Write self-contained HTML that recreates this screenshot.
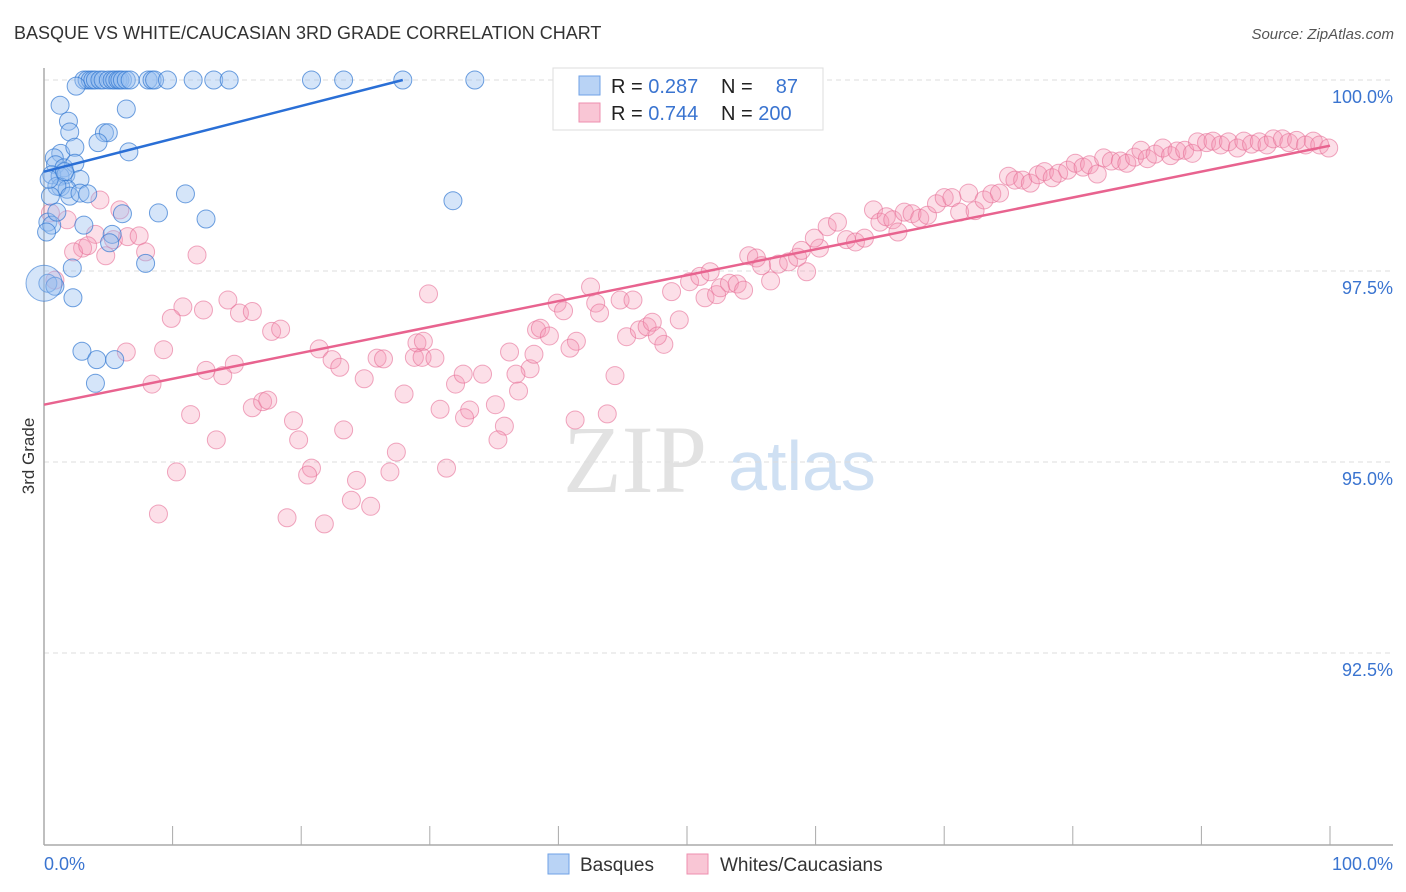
<!DOCTYPE html>
<html><head><meta charset="utf-8"><style>
body{margin:0;background:#fff;font-family:"Liberation Sans",sans-serif;}
svg{display:block}
</style></head><body>
<svg width="1406" height="892" xmlns="http://www.w3.org/2000/svg">
<text x="14" y="39" font-size="18" fill="#333">BASQUE VS WHITE/CAUCASIAN 3RD GRADE CORRELATION CHART</text>
<text x="1394" y="39" font-size="15" fill="#555" font-style="italic" text-anchor="end">Source: ZipAtlas.com</text>
<text transform="translate(34,456) rotate(-90)" font-size="17" fill="#333" text-anchor="middle">3rd Grade</text>
<g>
<text x="635" y="492" font-size="96" font-family="Liberation Serif,serif" fill="#e2e2e2" text-anchor="middle">ZIP</text>
<text x="802" y="490" font-size="70" fill="#cfe0f3" text-anchor="middle">atlas</text>
</g>
<g id="grid"></g>
<g id="axes"></g>
<g id="pts"></g>
<g id="lines"></g>
<g>
<rect x="553" y="68" width="270" height="62" fill="#fff" stroke="#ddd"/>
<rect x="579" y="76" width="21" height="19" fill="#b9d3f5" stroke="#6fa2e6"/>
<rect x="579" y="103" width="21" height="19" fill="#f9c6d5" stroke="#ee8faf"/>
<text x="611" y="93" font-size="20" fill="#222">R = <tspan fill="#3a74d0">0.287</tspan></text>
<text x="721" y="93" font-size="20" fill="#222">N =</text>
<text x="798" y="93" font-size="20" fill="#3a74d0" text-anchor="end">87</text>
<text x="611" y="120" font-size="20" fill="#222">R = <tspan fill="#3a74d0">0.744</tspan></text>
<text x="721" y="120" font-size="20" fill="#222">N = <tspan fill="#3a74d0">200</tspan></text>
</g>
<g>
<rect x="548" y="854" width="21" height="20" fill="#b9d3f5" stroke="#6fa2e6"/>
<text x="580" y="871" font-size="19" fill="#333">Basques</text>
<rect x="687" y="854" width="21" height="20" fill="#f9c6d5" stroke="#ee8faf"/>
<text x="720" y="871" font-size="19" fill="#333">Whites/Caucasians</text>
</g>
</svg>
<script>
const yTicks=[100,97.5,95,92.5];
const yTickLabels=["100.0%","97.5%","95.0%","92.5%"];
const xTicks=[0,10,20,30,40,50,60,70,80,90,100];
const xEndLabels=["0.0%","100.0%"];
const basqueX=[3.1,3.35,3.6,3.8,4.0,4.35,4.6,5.0,5.3,5.5,5.75,5.9,6.1,6.4,6.7,8.1,8.4,8.6,9.6,11.6,13.2,14.4,20.8,23.3,27.9,33.5,2.5,1.25,6.4,1.9,2.0,4.7,5.0,4.2,1.3,0.8,2.4,6.6,0.9,1.55,2.4,0.6,1.25,1.7,2.8,1.3,1.8,1.0,2.0,2.8,3.4,11.0,31.8,8.9,6.1,0.3,0.6,3.1,12.6,5.3,5.1,7.9,2.2,0.3,0.85,2.25,2.95,4.1,5.5,4.0,0.2,0.5,1.0,0.4,1.6];
const basqueY=[100,100,100,100,100,100,100,100,100,100,100,100,100,100,100,100,100,100,100,100,100,100,100,100,100,100,99.92,99.67,99.62,99.46,99.32,99.31,99.31,99.18,99.04,98.98,99.12,99.06,98.89,98.85,98.91,98.76,98.74,98.76,98.70,98.60,98.57,98.61,98.48,98.52,98.51,98.51,98.42,98.26,98.25,98.14,98.10,98.10,98.18,97.98,97.87,97.60,97.54,97.34,97.30,97.15,96.45,96.34,96.34,96.03,98.01,98.48,98.27,98.70,98.80];
const whiteX=[4.35,5.9,0.5,1.8,4.0,3.0,2.3,3.4,5.4,6.5,7.4,7.9,4.8,11.9,0.85,29.9,14.3,10.8,9.9,12.4,15.2,16.2,17.7,18.4,6.4,9.3,21.4,14.8,12.6,13.9,8.4,22.4,23.0,25.9,26.4,24.9,28.8,29.4,29.0,29.5,30.4,28.0,32.0,32.6,34.1,33.1,30.8,32.7,35.1,35.8,36.9,37.8,38.1,36.2,36.7,38.3,38.6,39.3,39.9,40.4,42.5,42.9,43.2,41.4,40.9,44.4,44.8,45.8,45.3,46.3,46.9,47.3,48.2,47.7,49.4,48.8,50.2,51.0,51.8,51.4,52.3,52.6,53.3,53.9,54.4,54.8,55.4,55.8,56.5,57.1,57.9,58.6,58.9,59.3,60.3,59.9,60.9,61.7,62.4,63.1,63.8,64.5,65.0,65.5,66.0,66.4,66.9,67.5,68.1,68.7,69.4,70.0,70.6,71.2,71.9,72.4,73.1,73.7,74.3,75.0,75.5,76.1,76.7,77.3,77.8,78.4,78.9,79.6,80.2,80.8,81.3,81.9,82.4,83.0,83.7,84.2,84.8,85.3,85.8,86.4,87.0,87.6,88.1,88.7,89.3,89.7,90.4,90.9,91.5,92.1,92.8,93.3,93.9,94.5,95.1,95.6,96.3,96.8,97.4,98.1,98.7,99.2,99.9,11.4,13.4,16.2,17.0,17.4,19.4,19.8,20.8,20.5,23.3,24.3,23.9,25.4,27.4,26.9,18.9,21.8,10.3,8.9,31.3,41.3,43.8,35.3];
const whiteY=[98.43,98.30,98.26,98.17,97.98,97.80,97.75,97.83,97.91,97.95,97.96,97.75,97.70,97.71,97.38,97.20,97.12,97.03,96.88,96.99,96.95,96.97,96.71,96.74,96.44,96.47,96.48,96.28,96.20,96.13,96.02,96.34,96.24,96.36,96.35,96.09,96.37,96.37,96.56,96.58,96.36,95.89,96.02,96.15,96.15,95.68,95.69,95.58,95.75,95.47,95.93,96.22,96.41,96.44,96.15,96.73,96.75,96.65,97.08,96.98,97.29,97.08,96.95,96.58,96.49,96.13,97.12,97.12,96.64,96.73,96.77,96.83,96.54,96.65,96.86,97.23,97.36,97.43,97.49,97.15,97.19,97.28,97.34,97.33,97.25,97.70,97.67,97.57,97.37,97.59,97.62,97.68,97.77,97.49,97.80,97.93,98.08,98.14,97.91,97.88,97.93,98.30,98.14,98.21,98.17,98.01,98.27,98.25,98.19,98.23,98.38,98.46,98.46,98.27,98.52,98.29,98.43,98.51,98.52,98.74,98.69,98.69,98.65,98.76,98.80,98.72,98.78,98.82,98.91,98.86,98.89,98.77,98.98,98.94,98.94,98.91,98.99,99.08,98.97,99.03,99.11,99.01,99.07,99.08,99.04,99.19,99.18,99.20,99.15,99.19,99.11,99.20,99.16,99.19,99.15,99.23,99.23,99.18,99.21,99.15,99.20,99.15,99.11,95.62,95.29,95.71,95.79,95.81,95.54,95.29,94.92,94.83,95.42,94.76,94.50,94.42,95.13,94.87,94.27,94.19,94.87,94.32,94.92,95.55,95.63,95.29];
const basqueTrend=[[0,98.80],[27.9,100]];
const whiteTrend=[[0,95.75],[100,99.14]];

const NS="http://www.w3.org/2000/svg";
const X0=44,X1=1330,Y0=80,PXPER=76.4;
function sx(v){return X0+(X1-X0)*v/100;}
function sy(v){return Y0+(100-v)*PXPER;}
function mk(tag,attrs,parent){const e=document.createElementNS(NS,tag);for(const k in attrs)e.setAttribute(k,attrs[k]);parent.appendChild(e);return e;}
const grid=document.getElementById('grid'),axes=document.getElementById('axes'),pts=document.getElementById('pts'),lines=document.getElementById('lines');
yTicks.forEach((t,i)=>{
  const l=mk('line',{x1:X0,x2:1393,y1:sy(t),y2:sy(t),stroke:'#ddd','stroke-dasharray':'5,4'},grid);
  
  
  const tx=mk('text',{x:1393,y:sy(t)+23,'font-size':18,fill:'#3a74d0','text-anchor':'end'},axes);
  tx.textContent=yTickLabels[i];
  
  
});
const ya=mk('line',{x1:X0,x2:X0,y1:68,y2:845,stroke:'#aaa','stroke-width':1.5},axes);


const xa=mk('line',{x1:X0,x2:1393,y1:845,y2:845,stroke:'#aaa','stroke-width':1.5},axes);


xTicks.forEach(t=>{
  const l=mk('line',{x1:sx(t),x2:sx(t),y1:826,y2:845,stroke:'#aaa'},axes);
  
  
});
const xl0=mk('text',{x:44,y:870,'font-size':18,fill:'#3a74d0'},axes);xl0.textContent=xEndLabels[0];


const xl1=mk('text',{x:1393,y:870,'font-size':18,fill:'#3a74d0','text-anchor':'end'},axes);xl1.textContent=xEndLabels[1];


whiteX.forEach((v,i)=>{
  const c=mk('circle',{cx:sx(v),cy:sy(whiteY[i]),r:9,fill:'rgba(244,150,180,0.3)',stroke:'rgba(230,110,150,0.6)','stroke-width':1},pts);
  
  
});
basqueX.forEach((v,i)=>{
  const c=mk('circle',{cx:sx(v),cy:sy(basqueY[i]),r:9,fill:'rgba(150,190,240,0.4)',stroke:'rgba(50,120,210,0.7)','stroke-width':1},pts);
  
  
});
const big=mk('circle',{cx:sx(0),cy:sy(97.34),r:18,fill:'rgba(150,190,240,0.4)',stroke:'rgba(50,120,210,0.6)'},pts);


const bl=mk('line',{x1:sx(basqueTrend[0][0]),y1:sy(basqueTrend[0][1]),x2:sx(basqueTrend[1][0]),y2:sy(basqueTrend[1][1]),stroke:'#2a6fd6','stroke-width':2.5},lines);


const wl=mk('line',{x1:sx(whiteTrend[0][0]),y1:sy(whiteTrend[0][1]),x2:sx(whiteTrend[1][0]),y2:sy(whiteTrend[1][1]),stroke:'#e8638f','stroke-width':2.5},lines);


</script>
</body></html>
